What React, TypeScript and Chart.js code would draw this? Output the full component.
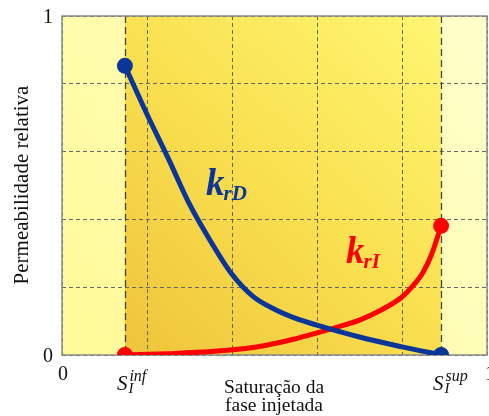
import React, { useEffect, useRef } from "react";
import { Chart, registerables } from "chart.js";

Chart.register(...registerables);

// Data
const S_INF = 0.148;
const S_SUP = 0.892;
const satD = [0.148, 0.2, 0.25, 0.3, 0.35, 0.4, 0.45, 0.5, 0.55, 0.6, 0.7, 0.8, 0.892];
const krD = [0.853, 0.71, 0.58, 0.445, 0.335, 0.238, 0.172, 0.135, 0.108, 0.088, 0.053, 0.024, 0];
const satI = [0.148, 0.25, 0.35, 0.45, 0.5, 0.55, 0.6, 0.65, 0.7, 0.75, 0.8, 0.825, 0.85, 0.87, 0.892];
const krI = [0, 0.004, 0.01, 0.022, 0.034, 0.048, 0.065, 0.083, 0.103, 0.132, 0.171, 0.203, 0.245, 0.298, 0.381];
const yTickLabels = ["0", "1"];
const xTickLabels = ["0", "1"];
const yTitle = "Permeabilidade relativa";
const xTitle = ["Saturação da", "fase injetada"];

const BLUE = "#0a3699";
const RED = "#ff0000";
const SERIF = "'Liberation Serif', 'Times New Roman', serif";

const bgPlugin = {
  id: "bgPlugin",
  beforeDraw(chart: any) {
    const { ctx, chartArea: a, scales } = chart;
    const x = scales.x;
    const xi = x.getPixelForValue(S_INF);
    const xs = x.getPixelForValue(S_SUP);
    ctx.save();
    const g1 = ctx.createLinearGradient(a.left, a.bottom, a.right, a.top);
    g1.addColorStop(0, "#fffa96");
    g1.addColorStop(1, "#ffffcc");
    ctx.fillStyle = g1;
    ctx.fillRect(a.left, a.top, a.right - a.left, a.bottom - a.top);
    const g2 = ctx.createLinearGradient(xi, a.bottom, xs, a.top);
    g2.addColorStop(0, "#efc43a");
    g2.addColorStop(0.5, "#f9e050");
    g2.addColorStop(1, "#fff672");
    ctx.fillStyle = g2;
    ctx.fillRect(xi, a.top, xs - xi, a.bottom - a.top);
    ctx.restore();
  },
  beforeDatasetsDraw(chart: any) {
    const { ctx, chartArea: a, scales } = chart;
    const x = scales.x;
    ctx.save();
    ctx.strokeStyle = "#444";
    ctx.lineWidth = 1.3;
    ctx.setLineDash([7, 4]);
    [S_INF, S_SUP].forEach((v) => {
      const px = Math.round(x.getPixelForValue(v)) + 0.5;
      ctx.beginPath();
      ctx.moveTo(px, a.top);
      ctx.lineTo(px, a.bottom);
      ctx.stroke();
    });
    ctx.setLineDash([]);
    ctx.strokeStyle = "#8a8a8a";
    ctx.lineWidth = 1.5;
    ctx.strokeRect(a.left, a.top, a.right - a.left, a.bottom - a.top);
    ctx.restore();
  },
  afterDraw(chart: any) {
    const { ctx, chartArea: a, scales } = chart;
    const x = scales.x;
    const y = scales.y;
    ctx.save();
    ctx.fillStyle = "#111";
    ctx.textBaseline = "alphabetic";
    // y ticks
    ctx.font = `20px ${SERIF}`;
    ctx.textAlign = "right";
    ctx.fillText(yTickLabels[0], a.left - 9, y.getPixelForValue(0) + 7);
    ctx.fillText(yTickLabels[1], a.left - 9, y.getPixelForValue(1) + 7);
    // x ticks
    ctx.textAlign = "center";
    ctx.fillText(xTickLabels[0], x.getPixelForValue(0) + 1, a.bottom + 25);
    ctx.textAlign = "left";
    ctx.fillText(xTickLabels[1], x.getPixelForValue(1) - 2, a.bottom + 25);
    // S labels
    const drawS = (v: number, sup: string) => {
      const cx = x.getPixelForValue(v);
      const left = cx - 8;
      ctx.textAlign = "left";
      ctx.font = `italic 21px ${SERIF}`;
      ctx.fillText("S", left, a.bottom + 35);
      const sw = ctx.measureText("S").width;
      ctx.font = `italic 15px ${SERIF}`;
      ctx.fillText("I", left + sw + 1, a.bottom + 38);
      ctx.font = `italic 16px ${SERIF}`;
      ctx.fillText(sup, left + sw + 2, a.bottom + 26);
    };
    drawS(S_INF, "inf");
    drawS(S_SUP, "sup");
    // x title
    ctx.font = `19.5px ${SERIF}`;
    ctx.textAlign = "center";
    const tx = 274;
    ctx.fillText(xTitle[0], tx, a.bottom + 38);
    ctx.fillText(xTitle[1], tx, a.bottom + 56);
    // y title
    ctx.save();
    ctx.translate(28, 185);
    ctx.rotate(-Math.PI / 2);
    ctx.textAlign = "center";
    ctx.font = `21px ${SERIF}`;
    ctx.fillText(yTitle, 0, 0);
    ctx.restore();
    // curve labels
    const drawK = (px: number, py: number, sub: string, color: string) => {
      ctx.fillStyle = color;
      ctx.textAlign = "left";
      ctx.font = `italic bold 37px ${SERIF}`;
      ctx.fillText("k", px, py);
      const kw = ctx.measureText("k").width;
      ctx.font = `italic bold 21px ${SERIF}`;
      ctx.fillText(sub, px + kw - 1, py + 5);
    };
    drawK(206, 195, "rD", BLUE);
    drawK(346, 263, "rI", RED);
    ctx.restore();
  },
};

export default function App() {
  const ref = useRef<HTMLCanvasElement | null>(null);
  useEffect(() => {
    document.body.style.margin = "0";
    if (!ref.current) return;
    const chart = new Chart(ref.current, {
      type: "line",
      data: {
        datasets: [
          {
            label: "krD",
            data: satD.map((s, i) => ({ x: s, y: krD[i] })),
            borderColor: BLUE,
            backgroundColor: BLUE,
            borderWidth: 5,
            cubicInterpolationMode: "monotone",
            pointRadius: satD.map((_, i) => (i === 0 || i === satD.length - 1 ? 5.5 : 0)),
            pointHoverRadius: 0,
            fill: false,
          },
          {
            label: "krI",
            data: satI.map((s, i) => ({ x: s, y: krI[i] })),
            borderColor: RED,
            backgroundColor: RED,
            borderWidth: 5,
            cubicInterpolationMode: "monotone",
            pointRadius: satI.map((_, i) => (i === 0 || i === satI.length - 1 ? 5.5 : 0)),
            pointHoverRadius: 0,
            fill: false,
          },
        ],
      },
      options: {
        animation: false,
        responsive: false,
        events: [],
        layout: { autoPadding: false, padding: { left: 62, top: 16, right: 2, bottom: 61 } },
        plugins: { legend: { display: false }, tooltip: { enabled: false } },
        scales: {
          x: {
            type: "linear",
            min: 0,
            max: 1,
            ticks: { display: false, stepSize: 0.2 },
            border: { display: false, dash: [4, 3] },
            grid: { drawTicks: false, color: "#666", lineWidth: 1 },
            afterFit: (s: any) => { s.height = 0; },
          },
          y: {
            min: 0,
            max: 1,
            ticks: { display: false, stepSize: 0.2 },
            border: { display: false, dash: [4, 3] },
            grid: { drawTicks: false, color: "#666", lineWidth: 1 },
            afterFit: (s: any) => { s.width = 0; },
          },
        },
      } as any,
      plugins: [bgPlugin],
    });
    return () => chart.destroy();
  }, []);
  return (
    <div style={{ width: 489, height: 416 }}>
      <canvas ref={ref} width={489} height={416} style={{ display: "block" }} />
    </div>
  );
}
